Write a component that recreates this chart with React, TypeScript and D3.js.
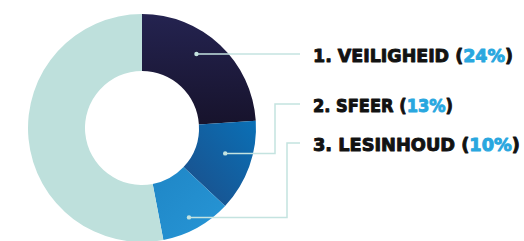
import React, { useEffect, useRef } from "react";
import * as d3 from "d3";

const labels = ["1. VEILIGHEID", "2. SFEER", "3. LESINHOUD", ""];
const values = [24, 13, 10, 53];
const colors = ["url(#g0)", "url(#g1)", "url(#g2)", "#bee0dc"];
// where the leader dot sits inside each slice (fraction of slice angle, radius)
const dotPos = [
  [0.42, 92],
  [0.44, 87],
  [0.53, 101],
];
const labelY = [54, 104, 143];
const labelWidth = [200, 140, 207];

export default function App() {
  const labelRef = useRef<SVGGElement>(null);
  const width = 524;
  const height = 241;
  const cx = 142;
  const cy = 128;
  const outer = 114;
  const inner = 57;

  const pie = d3.pie<number>().sort(null).value((d) => d);
  const arcs = pie(values);
  const arc = d3.arc<d3.PieArcDatum<number>>().innerRadius(inner).outerRadius(outer);

  const lineColor = "#c4e3e0";
  const lineEnd = 300;
  const textX = 313;

  useEffect(() => {
    const root = d3.select(labelRef.current);
    root.selectAll("*").remove();
    labels.slice(0, 3).forEach((t, i) => {
      const g = root.append("g");
      const parts = [
        { s: t + " (", c: "#121212" },
        { s: values[i] + "%", c: "#29a7df" },
        { s: ")", c: "#121212" },
      ];
      let x = 0;
      parts.forEach((p) => {
        const el = g
          .append("text")
          .attr("x", x)
          .attr("y", 0)
          .attr("font-family", "'DejaVu Sans', sans-serif")
          .attr("font-weight", 700)
          .attr("font-size", 18.5)
          .attr("fill", p.c)
          .attr("stroke", p.c)
          .attr("stroke-width", 1)
          .attr("stroke-linejoin", "round")
          .text(p.s);
        x += (el.node() as SVGTextElement).getComputedTextLength();
      });
      const sx = labelWidth[i] / x;
      g.attr("transform", `translate(${textX},${labelY[i] + 8}) scale(${sx},1)`);
    });
  }, []);

  return (
    <svg
      width={width}
      height={height}
      style={{ position: "absolute", left: 0, top: 0, background: "#fff" }}
    >
      <defs>
        <linearGradient id="g0" x1="0" y1="0" x2="0" y2="1">
          <stop offset="0" stopColor="#242350" />
          <stop offset="1" stopColor="#17132c" />
        </linearGradient>
        <linearGradient id="g1" x1="1" y1="0" x2="0" y2="1">
          <stop offset="0" stopColor="#0a70b6" />
          <stop offset="1" stopColor="#1c4d88" />
        </linearGradient>
        <linearGradient id="g2" x1="0" y1="0" x2="1" y2="1">
          <stop offset="0" stopColor="#1f86c6" />
          <stop offset="1" stopColor="#2796d6" />
        </linearGradient>
      </defs>
      <g transform={`translate(${cx},${cy})`}>
        {arcs.map((a, i) => (
          <path key={i} d={arc(a) || ""} fill={colors[i]} />
        ))}
      </g>
      {dotPos.map(([f, r], i) => {
        const a = arcs[i];
        const ang = a.startAngle + (a.endAngle - a.startAngle) * f;
        const [px, py] = d3.pointRadial(ang, r);
        const x0 = cx + px;
        const y0 = cy + py;
        const ly = labelY[i];
        let d: string;
        if (i === 0) {
          d = `M${x0},${ly}H${lineEnd}`;
        } else {
          const elbow = i === 1 ? 275 : 287;
          d = `M${x0},${y0}H${elbow}V${ly}H${lineEnd}`;
        }
        return (
          <g key={i}>
            <path d={d} fill="none" stroke={lineColor} strokeWidth={1.5} />
            <circle cx={x0} cy={i === 0 ? ly : y0} r={2.2} fill={lineColor} />
          </g>
        );
      })}
      <g ref={labelRef} />
    </svg>
  );
}
